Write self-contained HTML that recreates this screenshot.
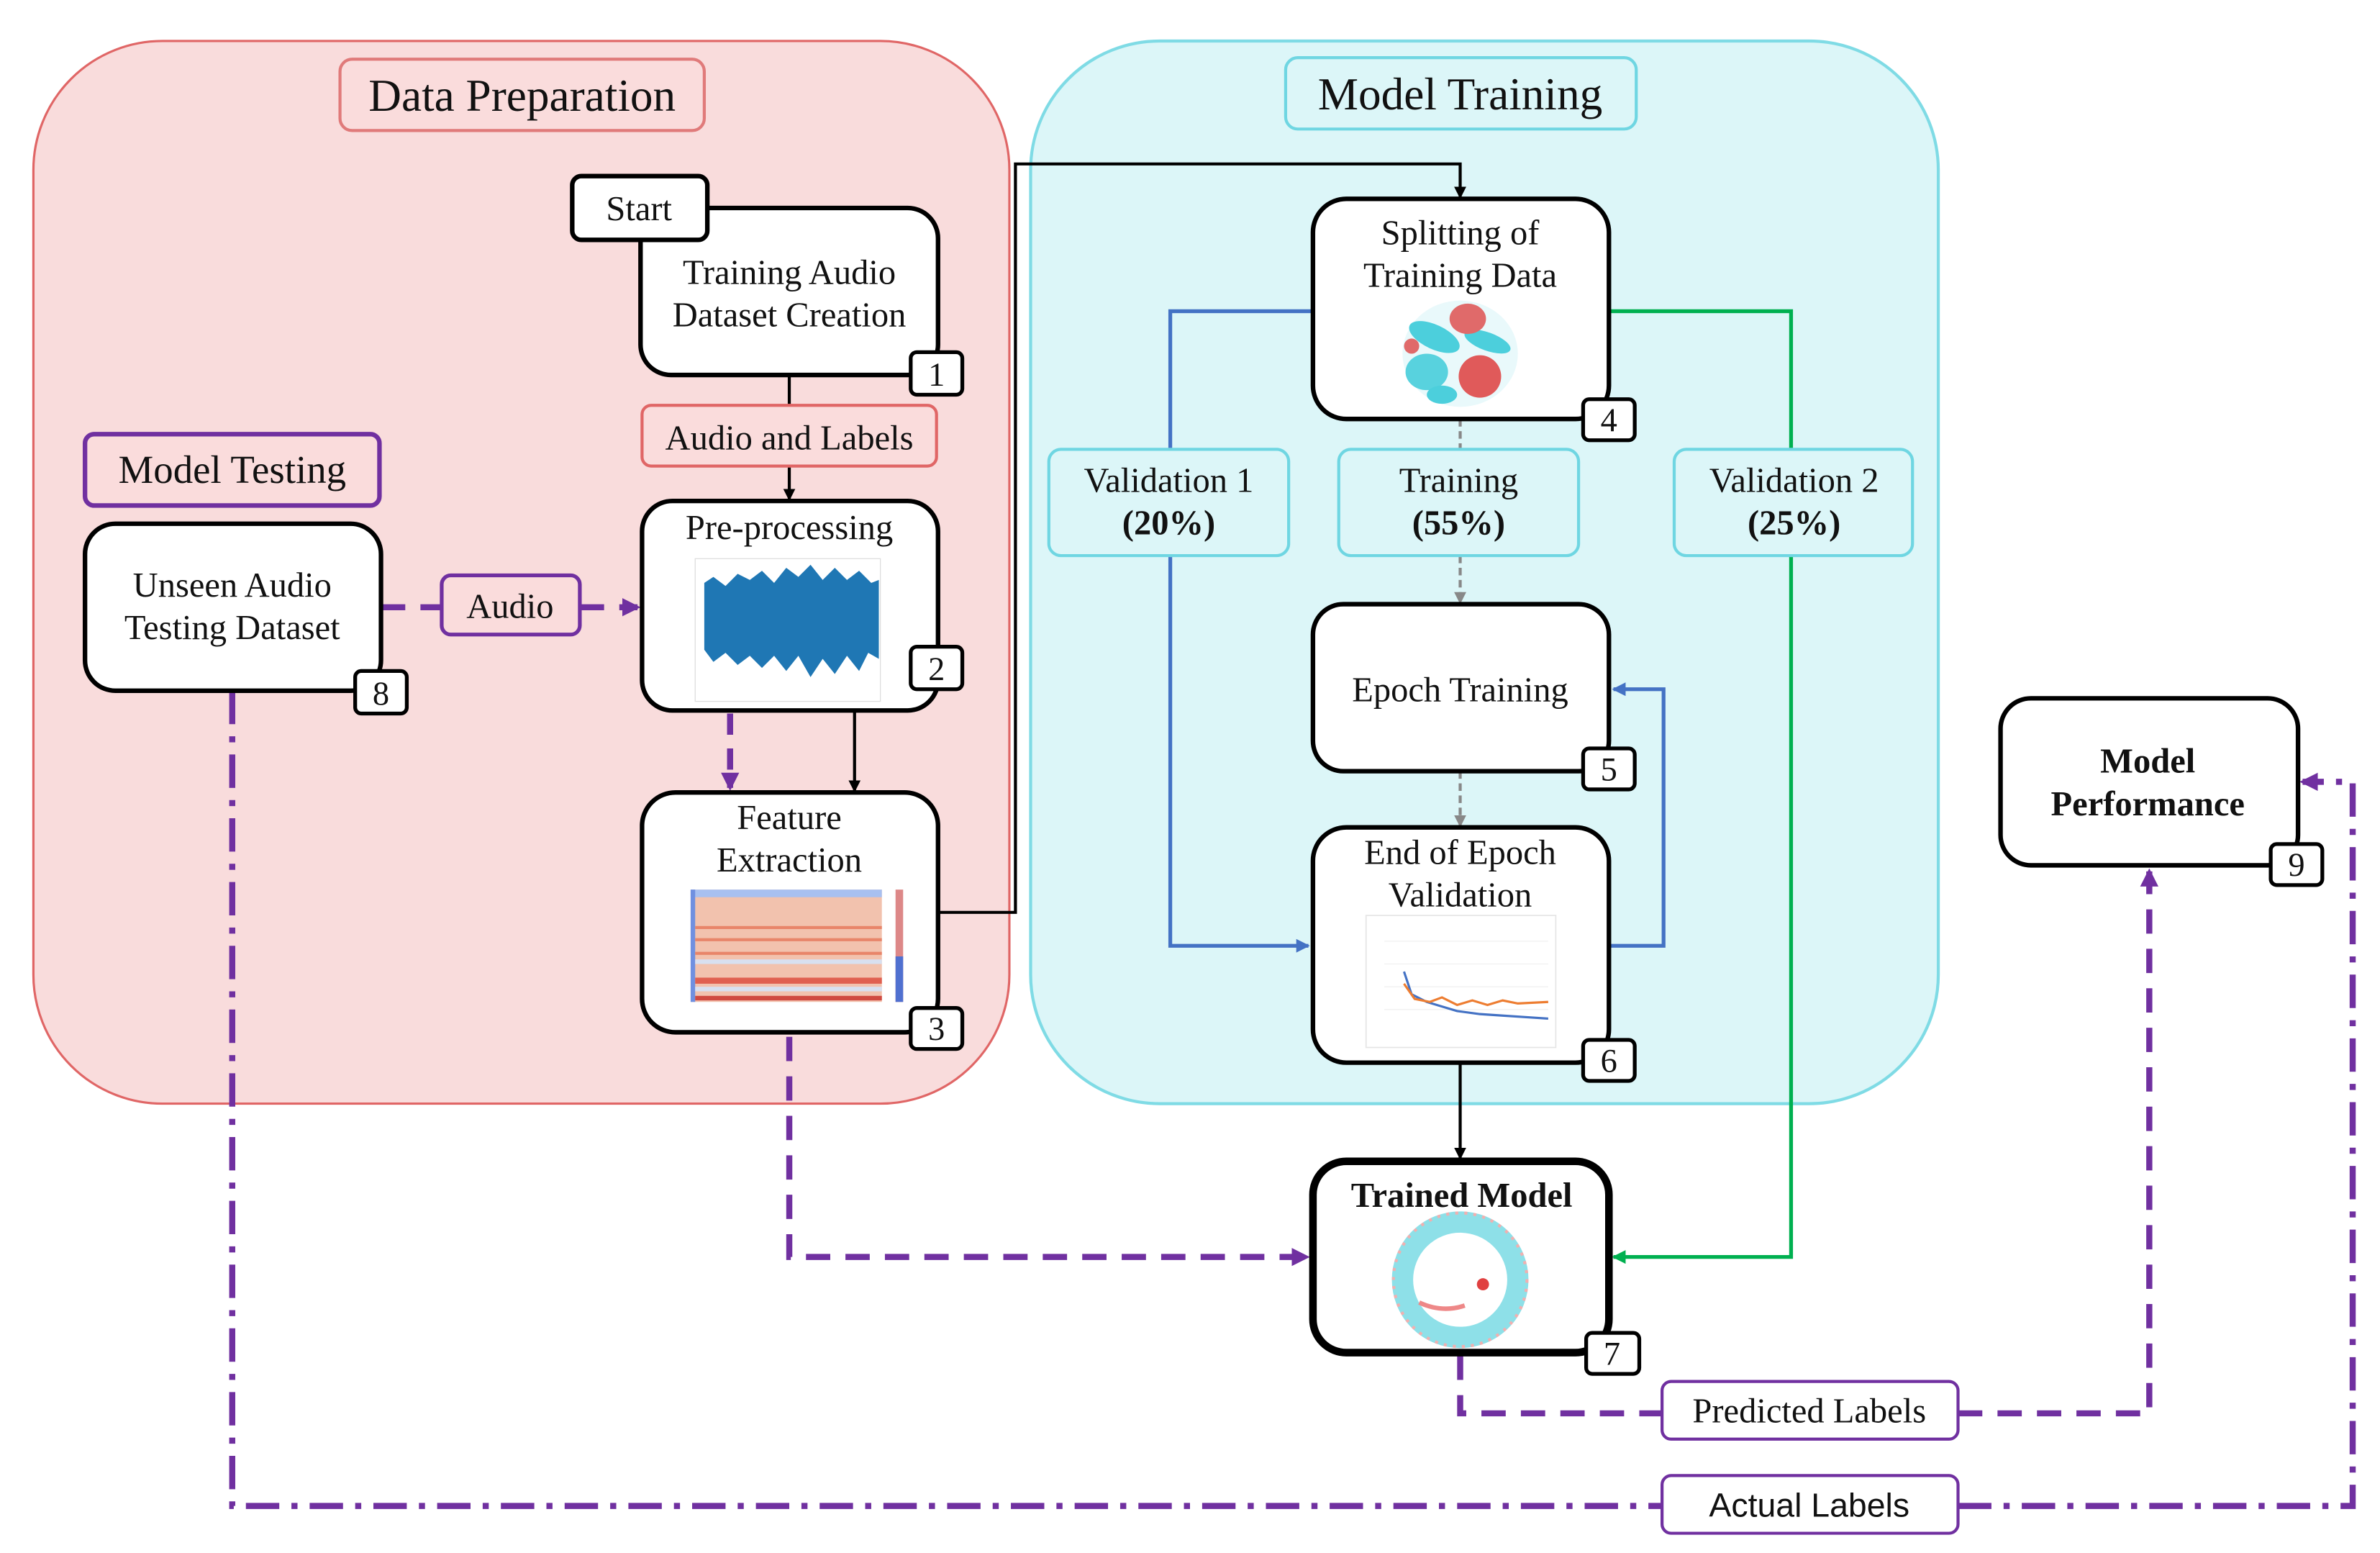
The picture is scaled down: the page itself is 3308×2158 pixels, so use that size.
<!DOCTYPE html>
<html><head><meta charset="utf-8">
<style>
html,body{margin:0;padding:0;background:#fff;}
svg{display:block;}
text{font-family:"Liberation Serif",serif;fill:#111;}
</style></head>
<body>
<svg width="3308" height="2158" viewBox="0 0 1568 1023" preserveAspectRatio="none" xmlns="http://www.w3.org/2000/svg">
<defs>
<marker id="ak" markerWidth="8" markerHeight="8" refX="7" refY="4" orient="auto" markerUnits="userSpaceOnUse"><path d="M0,0 L8,4 L0,8 z" fill="#000"/></marker>
<marker id="ab" markerWidth="9" markerHeight="9" refX="8" refY="4.5" orient="auto" markerUnits="userSpaceOnUse"><path d="M0,0 L9,4.5 L0,9 z" fill="#4472c4"/></marker>
<marker id="ag" markerWidth="9" markerHeight="9" refX="8" refY="4.5" orient="auto" markerUnits="userSpaceOnUse"><path d="M0,0 L9,4.5 L0,9 z" fill="#00b050"/></marker>
<marker id="agr" markerWidth="8" markerHeight="8" refX="7" refY="4" orient="auto" markerUnits="userSpaceOnUse"><path d="M0,0 L8,4 L0,8 z" fill="#888"/></marker>
<marker id="ap" markerWidth="12" markerHeight="12" refX="10" refY="6" orient="auto" markerUnits="userSpaceOnUse"><path d="M0,0 L12,6 L0,12 z" fill="#7030a0"/></marker>
</defs>

<rect x="22" y="27" width="643" height="700" rx="85" fill="#f9dcdc" stroke="#e06666" stroke-width="1.5"/>
<rect x="679" y="27" width="598" height="700" rx="85" fill="#dcf6f8" stroke="#7fdbe5" stroke-width="2"/>

<rect x="224" y="39" width="240" height="47" rx="8" fill="#fadcdc" stroke="#e07a7a" stroke-width="2"/>
<text x="344" y="73" font-size="30" text-anchor="middle">Data Preparation</text>
<rect x="847" y="38" width="231" height="47" rx="8" fill="#dcf6f8" stroke="#6fd6e2" stroke-width="2"/>
<text x="962" y="72" font-size="30" text-anchor="middle">Model Training</text>

<line x1="520" y1="247" x2="520" y2="267" stroke="#000" stroke-width="2"/>
<line x1="520" y1="307" x2="520" y2="329" stroke="#000" stroke-width="2" marker-end="url(#ak)"/>
<line x1="563" y1="468" x2="563" y2="521" stroke="#000" stroke-width="2" marker-end="url(#ak)"/>
<polyline points="618,601 669,601 669,108 962,108 962,130" fill="none" stroke="#000" stroke-width="2" marker-end="url(#ak)"/>
<line x1="962" y1="700" x2="962" y2="763" stroke="#000" stroke-width="2" marker-end="url(#ak)"/>

<polyline points="865,205 771,205 771,623 862,623" fill="none" stroke="#4472c4" stroke-width="2.5" marker-end="url(#ab)"/>
<polyline points="1060,623 1096,623 1096,454 1063,454" fill="none" stroke="#4472c4" stroke-width="2.5" marker-end="url(#ab)"/>
<polyline points="1060,205 1180,205 1180,828 1063,828" fill="none" stroke="#00b050" stroke-width="2.5" marker-end="url(#ag)"/>

<line x1="962" y1="276" x2="962" y2="296" stroke="#888" stroke-width="2" stroke-dasharray="5,3"/>
<line x1="962" y1="366" x2="962" y2="397" stroke="#888" stroke-width="2" stroke-dasharray="5,3" marker-end="url(#agr)"/>
<line x1="962" y1="508" x2="962" y2="544" stroke="#888" stroke-width="2" stroke-dasharray="5,3" marker-end="url(#agr)"/>

<g fill="none" stroke="#7030a0" stroke-width="4">
<line x1="251" y1="400" x2="291" y2="400" stroke-dasharray="16,10"/>
<line x1="382" y1="400" x2="420" y2="400" stroke-dasharray="16,10" marker-end="url(#ap)"/>
<line x1="481" y1="470" x2="481" y2="519" stroke-dasharray="14,9" marker-end="url(#ap)"/>
<polyline points="520,683 520,828 861,828" stroke-dasharray="16,10" marker-end="url(#ap)"/>
<polyline points="962,893 962,931 1095,931" stroke-dasharray="16,10"/>
<polyline points="1290,931 1416,931 1416,574" stroke-dasharray="16,10" marker-end="url(#ap)"/>
<polyline points="153,455 153,992 1095,992" stroke-dasharray="22,8,4,8"/>
<polyline points="1290,992 1550,992 1550,515 1517,515" stroke-dasharray="22,8,4,8" marker-end="url(#ap)"/>
</g>

<rect x="423" y="267" width="194" height="40" rx="6" fill="#fadcdc" stroke="#e06666" stroke-width="2"/>
<text x="520" y="296" font-size="23" text-anchor="middle">Audio and Labels</text>
<rect x="56" y="286" width="194" height="47" rx="6" fill="#fadcdc" stroke="#7030a0" stroke-width="3"/>
<text x="153" y="318" font-size="26" text-anchor="middle">Model Testing</text>
<rect x="291" y="379" width="91" height="39" rx="6" fill="#fadcdc" stroke="#7030a0" stroke-width="2.5"/>
<text x="336" y="407" font-size="23" text-anchor="middle">Audio</text>

<rect x="691" y="296" width="158" height="70" rx="8" fill="#dcf6f8" stroke="#6fd6e2" stroke-width="2"/>
<text x="770" y="324" font-size="23" text-anchor="middle">Validation 1</text>
<text x="770" y="352" font-size="23" text-anchor="middle" font-weight="bold">(20%)</text>
<rect x="882" y="296" width="158" height="70" rx="8" fill="#dcf6f8" stroke="#6fd6e2" stroke-width="2"/>
<text x="961" y="324" font-size="23" text-anchor="middle">Training</text>
<text x="961" y="352" font-size="23" text-anchor="middle" font-weight="bold">(55%)</text>
<rect x="1103" y="296" width="157" height="70" rx="8" fill="#dcf6f8" stroke="#6fd6e2" stroke-width="2"/>
<text x="1182" y="324" font-size="23" text-anchor="middle">Validation 2</text>
<text x="1182" y="352" font-size="23" text-anchor="middle" font-weight="bold">(25%)</text>

<rect x="1095" y="910" width="195" height="38" rx="6" fill="#fff" stroke="#7030a0" stroke-width="2"/>
<text x="1192" y="937" font-size="23" text-anchor="middle">Predicted Labels</text>
<rect x="1095" y="972" width="195" height="38" rx="6" fill="#fff" stroke="#7030a0" stroke-width="2"/>
<text x="1192" y="999" text-anchor="middle" style="font-family:'Liberation Sans',sans-serif;font-size:22px;">Actual Labels</text>

<g fill="#fff" stroke="#000" stroke-width="3">
<rect x="422" y="137" width="196" height="110" rx="20"/>
<rect x="423" y="330" width="195" height="138" rx="20"/>
<rect x="423" y="522" width="195" height="158" rx="22"/>
<rect x="56" y="345" width="195" height="110" rx="20"/>
<rect x="865" y="131" width="195" height="145" rx="22"/>
<rect x="865" y="398" width="195" height="110" rx="20"/>
<rect x="865" y="545" width="195" height="155" rx="22"/>
<rect x="865" y="765" width="195" height="126" rx="22" stroke-width="5"/>
<rect x="1318" y="460" width="196" height="110" rx="20"/>
<rect x="377" y="116" width="89" height="42" rx="6"/>
</g>
<text x="421" y="145" font-size="23" text-anchor="middle">Start</text>
<text x="520" y="187" font-size="23" text-anchor="middle">Training Audio</text>
<text x="520" y="215" font-size="23" text-anchor="middle">Dataset Creation</text>
<text x="520" y="355" font-size="23" text-anchor="middle">Pre-processing</text>
<text x="520" y="546" font-size="23" text-anchor="middle">Feature</text>
<text x="520" y="574" font-size="23" text-anchor="middle">Extraction</text>
<text x="153" y="393" font-size="23" text-anchor="middle">Unseen Audio</text>
<text x="153" y="421" font-size="23" text-anchor="middle">Testing Dataset</text>
<text x="962" y="161" font-size="23" text-anchor="middle">Splitting of</text>
<text x="962" y="189" font-size="23" text-anchor="middle">Training Data</text>
<text x="962" y="462" font-size="23" text-anchor="middle">Epoch Training</text>
<text x="962" y="569" font-size="23" text-anchor="middle">End of Epoch</text>
<text x="962" y="597" font-size="23" text-anchor="middle">Validation</text>
<text x="963" y="795" font-size="23" text-anchor="middle" font-weight="bold">Trained Model</text>
<text x="1415" y="509" font-size="23" text-anchor="middle" font-weight="bold">Model</text>
<text x="1415" y="537" font-size="23" text-anchor="middle" font-weight="bold">Performance</text>

<rect x="458" y="368" width="122" height="94" fill="#fff" stroke="#ddd" stroke-width="0.6"/>
<path d="M464,384 L470,380 478,386 486,378 494,382 502,376 510,384 518,374 526,380 534,372 542,382 550,374 558,382 566,376 574,384 579,382 L579,434 572,430 566,442 558,432 550,444 542,434 534,446 526,432 518,442 510,432 502,440 494,432 486,438 478,430 470,436 464,428 z" fill="#1f77b4"/>
<rect x="455" y="586" width="126" height="74" fill="#f2c2ae"/>
<rect x="455" y="586" width="126" height="5" fill="#a8c0f0"/>
<rect x="455" y="586" width="3" height="74" fill="#7090e0"/>
<g fill="#e8856a"><rect x="458" y="610" width="123" height="2"/><rect x="458" y="618" width="123" height="2"/><rect x="458" y="627" width="123" height="2"/><rect x="458" y="644" width="123" height="4" fill="#e06050"/><rect x="458" y="656" width="123" height="3" fill="#d04a40"/></g>
<g fill="#d8e0f0"><rect x="458" y="632" width="123" height="3"/><rect x="458" y="650" width="123" height="3"/></g>
<rect x="590" y="586" width="5" height="74" fill="#d88"/>
<rect x="590" y="630" width="5" height="30" fill="#5070d0"/>
<g>
<ellipse cx="962" cy="233" rx="38" ry="35" fill="#e9f9fb"/>
<ellipse cx="945" cy="222" rx="18" ry="8" fill="#4ccfdc" transform="rotate(25 945 222)"/>
<ellipse cx="940" cy="245" rx="14" ry="12" fill="#58d2de"/>
<ellipse cx="980" cy="225" rx="16" ry="6" fill="#4ccfdc" transform="rotate(20 980 225)"/>
<ellipse cx="975" cy="248" rx="14" ry="14" fill="#e05a5a"/>
<ellipse cx="967" cy="210" rx="12" ry="10" fill="#e06a6a"/>
<ellipse cx="950" cy="260" rx="10" ry="6" fill="#4ccfdc"/>
<ellipse cx="930" cy="228" rx="5" ry="5" fill="#e06a6a"/>
</g>
<rect x="900" y="603" width="125" height="87" fill="#fff" stroke="#e5e5e5" stroke-width="0.8"/>
<g stroke="#eee" stroke-width="0.5"><line x1="912" y1="620" x2="1020" y2="620"/><line x1="912" y1="635" x2="1020" y2="635"/><line x1="912" y1="650" x2="1020" y2="650"/><line x1="912" y1="665" x2="1020" y2="665"/></g>
<polyline points="925,640 930,655 940,660 950,663 960,666 975,668 990,669 1020,671" fill="none" stroke="#4472c4" stroke-width="1.5"/>
<polyline points="925,648 932,658 942,660 950,657 960,662 970,659 980,662 990,659 1000,661 1020,660" fill="none" stroke="#ed7d31" stroke-width="1.5"/>
<circle cx="962" cy="843" r="38" fill="none" stroke="#8ee0e8" stroke-width="14"/>
<circle cx="962" cy="843" r="44" fill="none" stroke="#f0b0b0" stroke-width="2" stroke-dasharray="2,4"/>
<path d="M935,858 Q950,865 965,860" stroke="#e88" stroke-width="3" fill="none"/>
<circle cx="977" cy="846" r="4" fill="#e04040"/>

<g fill="#fff" stroke="#000" stroke-width="2.5">
<rect x="600" y="232" width="34" height="28" rx="4"/>
<rect x="600" y="426" width="34" height="28" rx="4"/>
<rect x="600" y="664" width="34" height="27" rx="4"/>
<rect x="234" y="442" width="34" height="28" rx="4"/>
<rect x="1043" y="263" width="34" height="27" rx="4"/>
<rect x="1043" y="493" width="34" height="27" rx="4"/>
<rect x="1043" y="685" width="34" height="27" rx="4"/>
<rect x="1045" y="878" width="35" height="27" rx="4"/>
<rect x="1496" y="556" width="34" height="27" rx="4"/>
</g>
<g font-size="22" text-anchor="middle">
<text x="617" y="254">1</text><text x="617" y="448">2</text><text x="617" y="685">3</text>
<text x="251" y="464">8</text><text x="1060" y="284">4</text><text x="1060" y="514">5</text>
<text x="1060" y="706">6</text><text x="1062" y="899">7</text><text x="1513" y="577">9</text>
</g>
</svg>
</body></html>
